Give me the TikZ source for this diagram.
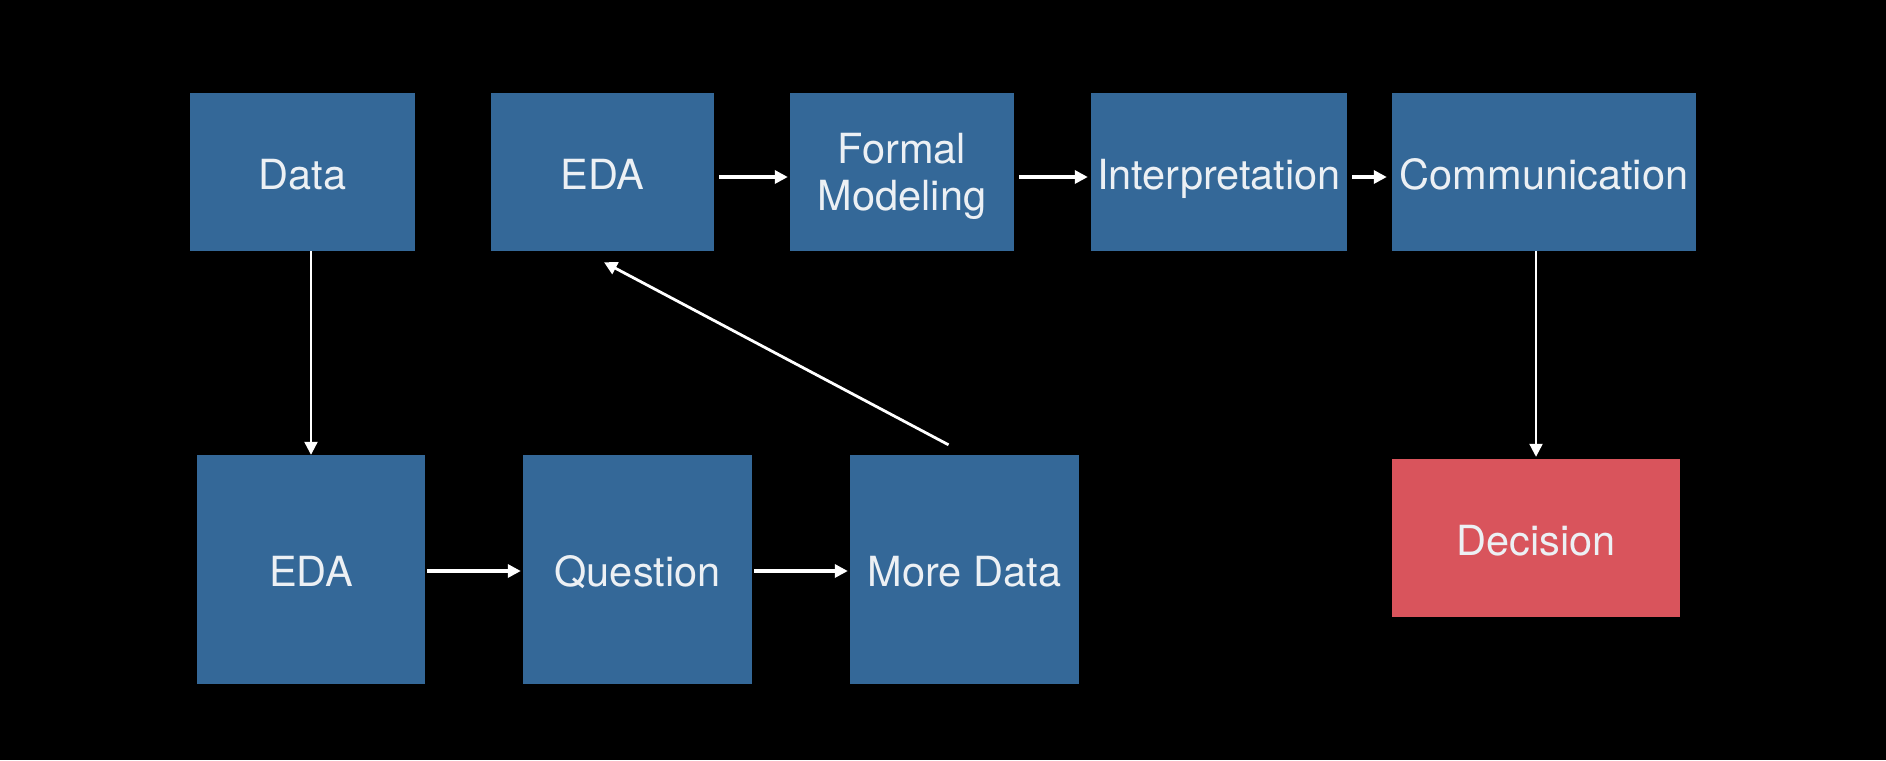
\documentclass[tikz,border=0pt]{standalone}
\usepackage{fontspec}
\setmainfont{TeX Gyre Heros}
\usetikzlibrary{arrows.meta}
\definecolor{boxblue}{RGB}{52,104,152}
\definecolor{boxred}{RGB}{217,84,92}
\definecolor{txtcol}{RGB}{236,240,244}
\begin{document}
\begin{tikzpicture}[x=1pt,y=-1pt,
  blk/.style={fill=boxblue,draw=none,inner sep=0pt,text=txtcol,align=center,
    font=\fontsize{41.5}{48}\selectfont},
  oneline/.style={text height=38pt,text depth=4pt},
  redblk/.style={blk,fill=boxred},
  conn/.style={draw=white,line width=3.2pt,-{Triangle[length=13pt,width=13pt]}},
  vconn/.style={conn,line width=2.2pt}]
\fill[black] (0,0) rectangle (1886,760);
\useasboundingbox (0,0) rectangle (1886,760);
% top row
\node[blk,oneline,minimum width=225pt,minimum height=158pt] (data) at (302.5,172) {Data};
\node[blk,oneline,minimum width=223pt,minimum height=158pt] (eda1) at (602.5,172) {EDA};
\node[blk,minimum width=224pt,minimum height=158pt] (formal) at (902,172) {\rule{0pt}{40pt}Formal\\[-1pt]Modeling};
\node[blk,oneline,minimum width=256pt,minimum height=158pt] (interp) at (1219,172) {Interpretation};
\node[blk,oneline,minimum width=304pt,minimum height=158pt] (comm) at (1544,172) {Communication};
% bottom row
\node[blk,oneline,minimum width=228pt,minimum height=229pt] (eda2) at (311,569.5) {EDA};
\node[blk,oneline,minimum width=229pt,minimum height=229pt] (quest) at (637.5,569.5) {Question};
\node[blk,oneline,minimum width=229pt,minimum height=229pt] (more) at (964.5,569.5) {More Data};
\node[redblk,oneline,minimum width=288pt,minimum height=158pt] (dec) at (1536,538) {Decision};
% connectors
\draw[conn,shorten <=5pt,shorten >=2pt] ([yshift=-5pt]eda1.east) -- ([yshift=-5pt]formal.west);
\draw[conn,shorten <=5pt,shorten >=3pt] ([yshift=-5pt]formal.east) -- ([yshift=-5pt]interp.west);
\draw[conn,shorten <=5pt,shorten >=5pt] ([yshift=-5pt]interp.east) -- ([yshift=-5pt]comm.west);
\draw[conn,shorten <=2pt,shorten >=2pt] ([yshift=-1.5pt]eda2.east) -- ([yshift=-1.5pt]quest.west);
\draw[conn,shorten <=2pt,shorten >=2pt] ([yshift=-1.5pt]quest.east) -- ([yshift=-1.5pt]more.west);
\draw[vconn,shorten >=0pt] (eda2.north |- data.south) -- (eda2.north);
\draw[vconn,shorten >=2pt] (dec.north |- comm.south) -- (dec.north);
\coordinate (ds) at ([shift={(-16,-10)}]more.north);
\coordinate (de) at ([shift={(1.5,11)}]eda1.south);
\draw[conn,line width=2.8pt] (ds) -- (de);
\end{tikzpicture}
\end{document}
